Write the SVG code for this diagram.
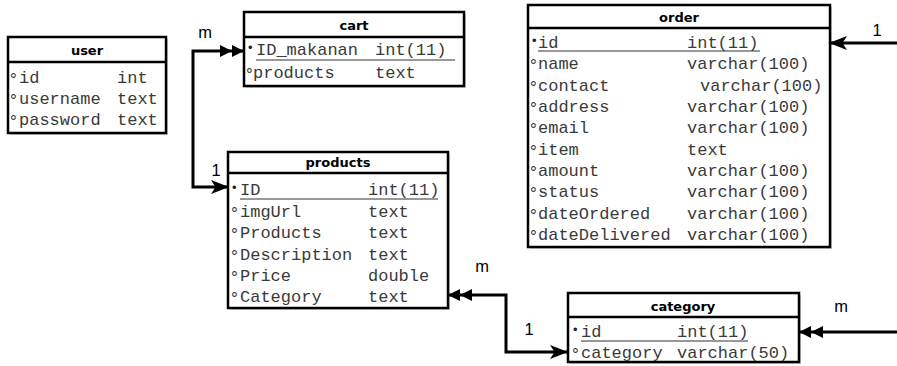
<svg xmlns="http://www.w3.org/2000/svg" width="897" height="366" viewBox="0 0 897 366">
  <style>
    .box { fill: #ffffff; stroke: #000000; stroke-width: 2.5; }
    .shadow { fill: #000000; opacity: 0.18; }
    .sep { stroke: #000000; stroke-width: 2.5; }
    .hdr { font-family: "DejaVu Sans", Verdana, sans-serif; font-weight: bold; font-size: 13px; text-anchor: middle; fill: #000; }
    .f { font-family: "Liberation Mono", "Courier New", monospace; font-size: 17px; fill: #3a3a3a; }
    .mk { font-family: "Liberation Sans", Arial, sans-serif; font-size: 17px; fill: #333; }
    .pk { font-family: "Liberation Sans", Arial, sans-serif; font-size: 13px; fill: #222; }
    .ul { stroke: #333; stroke-width: 1.2; }
    .lbl { font-family: "Liberation Sans", Arial, sans-serif; font-size: 16.5px; text-anchor: middle; fill: #000; }
    .conn { fill: none; stroke: #000000; stroke-width: 3; }
  </style>
  <defs>
    <!-- filled arrow with notched back -->
    <marker id="classic" viewBox="0 0 18 14" refX="17" refY="7" markerWidth="18" markerHeight="14" markerUnits="userSpaceOnUse" orient="auto-start-reverse">
      <path d="M0,0 L18,7 L0,14 L4.5,7 Z" fill="#000"/>
    </marker>
    <!-- two filled triangles (many side) -->
    <marker id="dblock" viewBox="0 0 24 12" refX="24" refY="6" markerWidth="24" markerHeight="12" markerUnits="userSpaceOnUse" orient="auto-start-reverse">
      <path d="M0,0 L12,6 L0,12 Z M12,0 L24,6 L12,12 Z" fill="#000"/>
    </marker>
  </defs>

  <!-- connectors -->
  <g id="connectors">
    <path class="conn" d="M228,187 H193 V51 H244" marker-start="url(#classic)" marker-end="url(#dblock)"/>
    <path class="conn" d="M448,295 H506 V352 H567" marker-start="url(#dblock)" marker-end="url(#classic)"/>
    <path class="conn" d="M897,332 H799" marker-end="url(#dblock)"/>
    <path class="conn" d="M897,43 H830" marker-end="url(#classic)"/>
    <text class="lbl" x="205" y="38">m</text>
    <text class="lbl" x="216" y="176">1</text>
    <text class="lbl" x="482" y="272">m</text>
    <text class="lbl" x="529" y="335">1</text>
    <text class="lbl" x="841" y="312">m</text>
    <text class="lbl" x="877" y="36">1</text>
  </g>

  <!-- user table -->
  <g id="user">
    <rect class="shadow" x="10" y="39" width="158" height="96"/>
    <rect class="box" x="8" y="37" width="158" height="96"/>
    <line class="sep" x1="8" y1="62" x2="166" y2="62"/>
    <text class="hdr" x="87" y="55">user</text>
    <text class="mk" x="10" y="85">°</text><text class="f" x="19" y="83">id</text><text class="f" x="117" y="83">int</text>
    <text class="mk" x="10" y="106">°</text><text class="f" x="19" y="104">username</text><text class="f" x="117" y="104">text</text>
    <text class="mk" x="10" y="127">°</text><text class="f" x="19" y="125">password</text><text class="f" x="117" y="125">text</text>
  </g>

  <!-- cart table -->
  <g id="cart">
    <rect class="shadow" x="246" y="14" width="220" height="74"/>
    <rect class="box" x="244" y="12" width="220" height="74"/>
    <line class="sep" x1="244" y1="37" x2="464" y2="37"/>
    <text class="hdr" x="354" y="30">cart</text>
    <text class="pk" x="248" y="52">•</text><text class="f" x="256" y="55">ID_makanan</text><text class="f" x="375" y="55">int(11)</text>
    <line class="ul" x1="256" y1="60" x2="455" y2="60"/>
    <text class="mk" x="246" y="80">°</text><text class="f" x="253" y="78">products</text><text class="f" x="375" y="78">text</text>
  </g>

  <!-- products table -->
  <g id="products">
    <rect class="shadow" x="230" y="154" width="220" height="156"/>
    <rect class="box" x="228" y="152" width="220" height="156"/>
    <line class="sep" x1="228" y1="173" x2="448" y2="173"/>
    <text class="hdr" x="338" y="167">products</text>
    <text class="pk" x="232" y="192">•</text><text class="f" x="240" y="195">ID</text><text class="f" x="368" y="195">int(11)</text>
    <line class="ul" x1="240" y1="199" x2="438" y2="199"/>
    <text class="mk" x="231" y="219">°</text><text class="f" x="240" y="217">imgUrl</text><text class="f" x="368" y="217">text</text>
    <text class="mk" x="231" y="240">°</text><text class="f" x="240" y="238">Products</text><text class="f" x="368" y="238">text</text>
    <text class="mk" x="231" y="262">°</text><text class="f" x="240" y="260">Description</text><text class="f" x="368" y="260">text</text>
    <text class="mk" x="231" y="283">°</text><text class="f" x="240" y="281">Price</text><text class="f" x="368" y="281">double</text>
    <text class="mk" x="231" y="304">°</text><text class="f" x="240" y="302">Category</text><text class="f" x="368" y="302">text</text>
  </g>

  <!-- order table -->
  <g id="order">
    <rect class="shadow" x="530" y="7" width="302" height="242"/>
    <rect class="box" x="528" y="5" width="302" height="242"/>
    <line class="sep" x1="528" y1="28" x2="830" y2="28"/>
    <text class="hdr" x="679" y="22">order</text>
    <text class="pk" x="532" y="45">•</text><text class="f" x="538" y="48">id</text><text class="f" x="687" y="48">int(11)</text>
    <line class="ul" x1="538" y1="51" x2="760" y2="51"/>
    <text class="mk" x="530" y="71">°</text><text class="f" x="538" y="69">name</text><text class="f" x="687" y="69">varchar(100)</text>
    <text class="mk" x="530" y="93">°</text><text class="f" x="538" y="91">contact</text><text class="f" x="700" y="91">varchar(100)</text>
    <text class="mk" x="530" y="114">°</text><text class="f" x="538" y="112">address</text><text class="f" x="687" y="112">varchar(100)</text>
    <text class="mk" x="530" y="135">°</text><text class="f" x="538" y="133">email</text><text class="f" x="687" y="133">varchar(100)</text>
    <text class="mk" x="530" y="157">°</text><text class="f" x="538" y="155">item</text><text class="f" x="687" y="155">text</text>
    <text class="mk" x="530" y="178">°</text><text class="f" x="538" y="176">amount</text><text class="f" x="687" y="176">varchar(100)</text>
    <text class="mk" x="530" y="199">°</text><text class="f" x="538" y="197">status</text><text class="f" x="687" y="197">varchar(100)</text>
    <text class="mk" x="530" y="221">°</text><text class="f" x="538" y="219">dateOrdered</text><text class="f" x="687" y="219">varchar(100)</text>
    <text class="mk" x="530" y="242">°</text><text class="f" x="538" y="240">dateDelivered</text><text class="f" x="687" y="240">varchar(100)</text>
  </g>

  <!-- category table -->
  <g id="category">
    <rect class="shadow" x="570" y="295" width="231" height="69"/>
    <rect class="box" x="568" y="293" width="231" height="69"/>
    <line class="sep" x1="568" y1="317" x2="799" y2="317"/>
    <text class="hdr" x="683" y="311">category</text>
    <text class="pk" x="573" y="334">•</text><text class="f" x="581" y="337">id</text><text class="f" x="677" y="337">int(11)</text>
    <line class="ul" x1="581" y1="341" x2="748" y2="341"/>
    <text class="mk" x="572" y="360">°</text><text class="f" x="581" y="358">category</text><text class="f" x="677" y="358">varchar(50)</text>
  </g>
</svg>
